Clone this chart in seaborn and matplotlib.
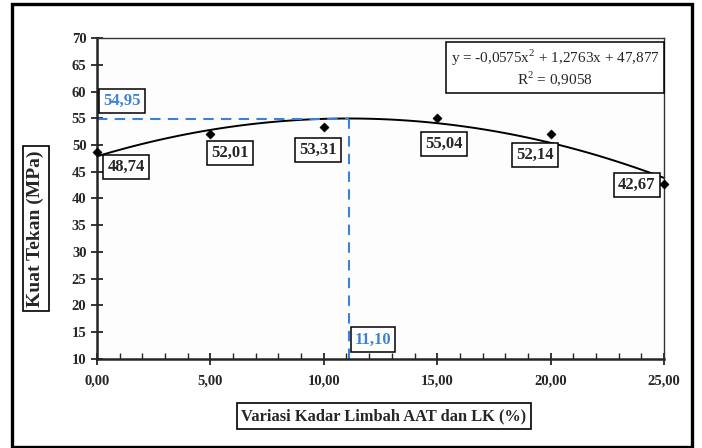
import numpy as np
import pandas as pd
import matplotlib
matplotlib.use("Agg")
import matplotlib.pyplot as plt
from matplotlib.ticker import MultipleLocator, FuncFormatter
from matplotlib.patches import Rectangle
import seaborn as sns

# data
kadar = [0, 5, 10, 15, 20, 25]
kuat_tekan = [48.74, 52.01, 53.31, 55.04, 52.14, 42.67]
labels = ["48,74", "52,01", "53,31", "55,04", "52,14", "42,67"]
label_x = [1.28, 5.87, 9.74, 15.3, 19.3, 23.8]
label_y = [45.9, 48.5, 49.1, 50.2, 48.1, 42.5]
x_opt = 11.10
y_opt = 54.95
persamaan = "y = -0,0575x$^2$ + 1,2763x + 47,877\nR$^2$ = 0,9058"

df = pd.DataFrame({"kadar": kadar, "kuat": kuat_tekan})

sns.set_style("ticks")
plt.rcParams["font.family"] = ["Liberation Serif", "DejaVu Serif"]
plt.rcParams["mathtext.fontset"] = "custom"
plt.rcParams["mathtext.rm"] = "Liberation Serif"

fig = plt.figure(figsize=(7.02, 4.48), dpi=100)
ax = fig.add_axes([0.138, 0.199, 0.808, 0.716])

blue = "#3b82d6"

# trend line (2nd order fit) and points
sns.regplot(data=df, x="kadar", y="kuat", order=2, ci=None, scatter=False,
            color="black", line_kws={"linewidth": 1.4}, ax=ax)
sns.scatterplot(data=df, x="kadar", y="kuat", marker="D", s=22, color="black",
                edgecolor="black", ax=ax, zorder=5, clip_on=False)

# optimum dashed lines
ax.plot([0, x_opt], [y_opt, y_opt], ls=(0, (5, 3.5)), color=blue, lw=1.5)
ax.plot([x_opt, x_opt], [10, y_opt], ls=(0, (5, 3.5)), color=blue, lw=1.5)

box = dict(boxstyle="square,pad=0.25", fc="white", ec="black", lw=1.1)
for lx, ly, t in zip(label_x, label_y, labels):
    ax.text(lx, ly, t, ha="center", va="center", fontsize=12, fontweight="bold",
            bbox=box, zorder=6)

ax.text(1.1, 58.2, "54,95", ha="center", va="center", fontsize=12,
        fontweight="bold", color=blue, bbox=box, zorder=6)
ax.text(12.17, 13.6, "11,10", ha="center", va="center", fontsize=12,
        fontweight="bold", color=blue, bbox=box, zorder=6)

ax.text(0.808, 0.907, persamaan, transform=ax.transAxes, ha="center",
        va="center", fontsize=11, linespacing=1.1,
        bbox=dict(boxstyle="square,pad=0.3", fc="white", ec="black", lw=1.1))

ax.set_xlim(0, 25)
ax.set_ylim(10, 70)
ax.xaxis.set_major_locator(MultipleLocator(5))
ax.xaxis.set_minor_locator(MultipleLocator(1))
ax.yaxis.set_major_locator(MultipleLocator(5))
ax.xaxis.set_major_formatter(FuncFormatter(lambda v, p: f"{v:.2f}".replace(".", ",")))
ax.tick_params(axis="both", which="major", direction="inout", length=8, width=1.3,
               labelsize=10.5)
ax.tick_params(axis="x", which="minor", direction="in", length=4, width=1)
ax.tick_params(axis="x", pad=7)
for lab in ax.get_xticklabels() + ax.get_yticklabels():
    lab.set_fontweight("bold")

for s in ["left", "bottom"]:
    ax.spines[s].set_linewidth(1.8)
for s in ["top", "right"]:
    ax.spines[s].set_visible(True)
    ax.spines[s].set_linewidth(1.0)
    ax.spines[s].set_color("#333333")
ax.set_facecolor("#fdfdfd")

ax.set_xlabel("")
ax.set_ylabel("")
fig.text(0.547, 0.071, "Variasi Kadar Limbah AAT dan LK (%)", ha="center",
         va="center", fontsize=11.8, fontweight="bold",
         bbox=dict(boxstyle="square,pad=0.3", fc="white", ec="black", lw=1.2))
fig.text(0.051, 0.49, "Kuat Tekan (MPa)", ha="center", va="center",
         rotation=90, fontsize=14, fontweight="bold",
         bbox=dict(boxstyle="square,pad=0.22", fc="white", ec="black", lw=1.2))

# outer frame
fig.patches.append(Rectangle((0.017, 0.003), 0.969, 0.987, transform=fig.transFigure,
                             fill=False, ec="black", lw=2.4))

fig.savefig("out.png", dpi=100)
